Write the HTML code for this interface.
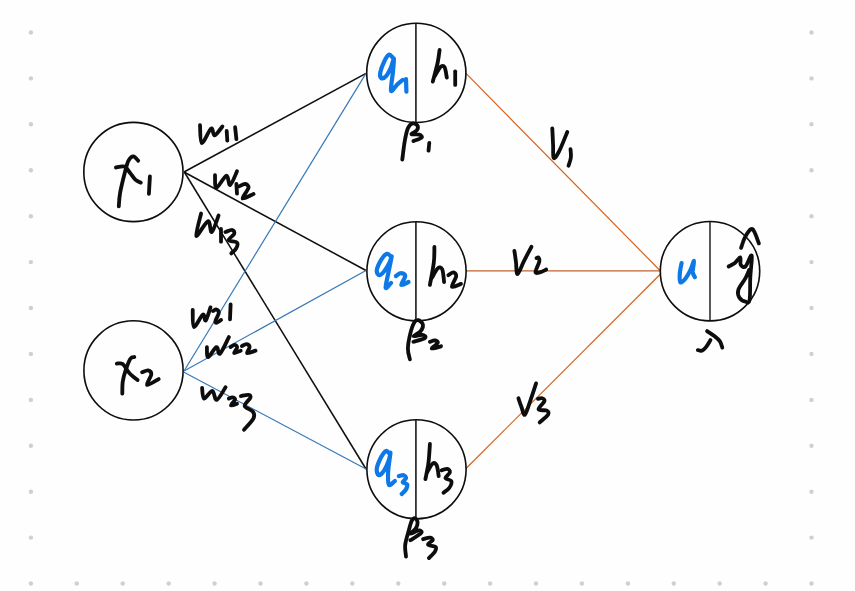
<!DOCTYPE html>
<html><head><meta charset="utf-8"><title>Neural network</title>
<style>html,body{margin:0;padding:0;background:#fefefe;font-family:"Liberation Sans",sans-serif;}svg{display:block}</style></head><body>
<svg width="855" height="591" viewBox="0 0 855 591">
<defs><filter id="b" x="-2%" y="-2%" width="104%" height="104%"><feGaussianBlur stdDeviation="0.4"/></filter></defs>
<rect width="855" height="591" fill="#fefefe"/>
<g filter="url(#b)">
<g fill="#d0d0d4">
<circle cx="30.9" cy="32.5" r="2.2"/>
<circle cx="30.9" cy="78.4" r="2.2"/>
<circle cx="30.9" cy="124.3" r="2.2"/>
<circle cx="30.9" cy="170.3" r="2.2"/>
<circle cx="30.9" cy="216.2" r="2.2"/>
<circle cx="30.9" cy="262.1" r="2.2"/>
<circle cx="30.9" cy="308.0" r="2.2"/>
<circle cx="30.9" cy="353.9" r="2.2"/>
<circle cx="30.9" cy="399.9" r="2.2"/>
<circle cx="30.9" cy="445.8" r="2.2"/>
<circle cx="30.9" cy="491.7" r="2.2"/>
<circle cx="30.9" cy="537.6" r="2.2"/>
<circle cx="30.9" cy="583.5" r="2.2"/>
<circle cx="76.8" cy="583.5" r="2.2"/>
<circle cx="122.7" cy="583.5" r="2.2"/>
<circle cx="168.7" cy="583.5" r="2.2"/>
<circle cx="214.6" cy="583.5" r="2.2"/>
<circle cx="260.5" cy="583.5" r="2.2"/>
<circle cx="306.4" cy="583.5" r="2.2"/>
<circle cx="352.3" cy="583.5" r="2.2"/>
<circle cx="398.3" cy="583.5" r="2.2"/>
<circle cx="444.2" cy="583.5" r="2.2"/>
<circle cx="490.1" cy="583.5" r="2.2"/>
<circle cx="536.0" cy="583.5" r="2.2"/>
<circle cx="581.9" cy="583.5" r="2.2"/>
<circle cx="627.9" cy="583.5" r="2.2"/>
<circle cx="673.8" cy="583.5" r="2.2"/>
<circle cx="719.7" cy="583.5" r="2.2"/>
<circle cx="765.6" cy="583.5" r="2.2"/>
<circle cx="811.5" cy="32.5" r="2.2"/>
<circle cx="811.5" cy="78.4" r="2.2"/>
<circle cx="811.5" cy="124.3" r="2.2"/>
<circle cx="811.5" cy="170.3" r="2.2"/>
<circle cx="811.5" cy="216.2" r="2.2"/>
<circle cx="811.5" cy="262.1" r="2.2"/>
<circle cx="811.5" cy="308.0" r="2.2"/>
<circle cx="811.5" cy="353.9" r="2.2"/>
<circle cx="811.5" cy="399.9" r="2.2"/>
<circle cx="811.5" cy="445.8" r="2.2"/>
<circle cx="811.5" cy="491.7" r="2.2"/>
<circle cx="811.5" cy="537.6" r="2.2"/>
<circle cx="811.5" cy="583.5" r="2.2"/>
<circle cx="857.5" cy="32.5" r="2.2"/>
<circle cx="857.5" cy="78.4" r="2.2"/>
<circle cx="857.5" cy="124.3" r="2.2"/>
<circle cx="857.5" cy="170.3" r="2.2"/>
<circle cx="857.5" cy="216.2" r="2.2"/>
<circle cx="857.5" cy="262.1" r="2.2"/>
<circle cx="857.5" cy="308.0" r="2.2"/>
<circle cx="857.5" cy="353.9" r="2.2"/>
<circle cx="857.5" cy="399.9" r="2.2"/>
<circle cx="857.5" cy="445.8" r="2.2"/>
<circle cx="857.5" cy="491.7" r="2.2"/>
<circle cx="857.5" cy="537.6" r="2.2"/>
<circle cx="857.5" cy="583.5" r="2.2"/>
</g>
<line x1="184" y1="172" x2="366" y2="73.4" stroke="#0a0a0a" stroke-width="1.5"/>
<line x1="184" y1="172" x2="366" y2="270.5" stroke="#0a0a0a" stroke-width="1.5"/>
<line x1="184.3" y1="172" x2="366" y2="469" stroke="#0a0a0a" stroke-width="1.5"/>
<line x1="184" y1="371" x2="366" y2="73.4" stroke="#3878b8" stroke-width="1.2"/>
<line x1="184" y1="371" x2="366" y2="270.5" stroke="#3878b8" stroke-width="1.2"/>
<line x1="184" y1="372.3" x2="366" y2="469" stroke="#3878b8" stroke-width="1.2"/>
<line x1="466" y1="73.4" x2="660" y2="270.5" stroke="#d9621a" stroke-width="1.2"/>
<line x1="466" y1="270.8" x2="660" y2="270.8" stroke="#c2632e" stroke-width="1.2"/>
<line x1="466" y1="468.5" x2="660" y2="274.5" stroke="#d9621a" stroke-width="1.2"/>
<circle cx="133.4" cy="172" r="49.6" fill="none" stroke="#0a0a0a" stroke-width="1.6"/>
<circle cx="133.5" cy="370.4" r="49.6" fill="none" stroke="#0a0a0a" stroke-width="1.6"/>
<circle cx="416.3" cy="72.9" r="49.6" fill="none" stroke="#0a0a0a" stroke-width="1.6"/>
<circle cx="416.5" cy="271.3" r="49.6" fill="none" stroke="#0a0a0a" stroke-width="1.6"/>
<circle cx="416.5" cy="469.3" r="49.6" fill="none" stroke="#0a0a0a" stroke-width="1.6"/>
<circle cx="710" cy="271.2" r="49.7" fill="none" stroke="#0a0a0a" stroke-width="1.6"/>
<line x1="415.9" y1="23.300000000000004" x2="415.9" y2="122.5" stroke="#0a0a0a" stroke-width="1.5"/>
<line x1="415.9" y1="221.70000000000002" x2="415.9" y2="320.90000000000003" stroke="#0a0a0a" stroke-width="1.5"/>
<line x1="415.9" y1="419.7" x2="415.9" y2="518.9" stroke="#0a0a0a" stroke-width="1.5"/>
<line x1="710" y1="221.5" x2="710" y2="320.9" stroke="#0a0a0a" stroke-width="1.3"/>
<g fill="none" stroke-linecap="round" stroke-linejoin="round">
<path d="M138.2,160.7C137.4,160.0 135.0,156.4 133.4,156.4C131.8,156.4 130.0,157.9 128.5,160.7C127.0,163.5 126.0,168.1 124.6,173.4C123.2,178.8 121.1,187.3 120.1,192.8C119.1,198.3 119.0,204.1 118.8,206.4" stroke="#0a0a0a" stroke-width="3.8"/>
<path d="M115.9,167.5C117.4,167.3 122.2,165.6 124.6,166.6C127.0,167.6 128.6,171.2 130.4,173.4C132.2,175.6 133.6,178.1 135.3,179.6C137.0,181.1 139.9,182.2 140.8,182.7" stroke="#0a0a0a" stroke-width="3.8"/>
<path d="M149.9,176.3L148.9,193.8" stroke="#0a0a0a" stroke-width="3.8"/>
<path d="M134.3,357.1C133.7,357.4 131.9,356.5 130.4,358.7C128.9,360.9 126.9,366.5 125.6,370.4C124.3,374.3 123.2,378.1 122.7,382.0C122.2,385.9 122.4,391.8 122.3,393.7" stroke="#0a0a0a" stroke-width="3.8"/>
<path d="M116.8,363.6C117.8,363.7 120.6,362.5 122.7,364.1C124.8,365.7 127.0,370.6 129.5,373.3C132.0,376.0 136.2,379.0 137.6,380.1" stroke="#0a0a0a" stroke-width="3.8"/>
<path d="M142.1,372.3C143.1,372.0 146.5,370.1 148.0,370.4C149.5,370.7 151.5,371.9 151.3,374.3C151.1,376.7 145.8,384.2 147.0,385.0C148.2,385.8 156.8,380.1 158.7,379.1" stroke="#0a0a0a" stroke-width="3.8"/>
<path d="M392.9,57.7C392.2,57.2 390.4,54.1 389.0,54.7C387.6,55.4 385.6,58.7 384.2,61.6C382.8,64.5 380.8,69.5 380.3,72.3C379.8,75.0 380.3,77.5 381.3,78.1C382.3,78.7 384.5,77.9 386.1,76.1C387.7,74.3 389.7,70.3 391.0,67.4C392.3,64.5 393.6,57.8 393.9,58.6C394.2,59.4 393.4,67.0 392.9,72.3C392.4,77.6 390.4,88.6 391.0,90.7C391.6,92.8 394.9,86.7 396.8,84.9C398.8,83.1 401.7,80.8 402.7,80.0" stroke="#0b78e6" stroke-width="4.2"/>
<path d="M406.0,79.1L406.4,91.7" stroke="#0b78e6" stroke-width="4.2"/>
<path d="M439.6,49.9C439.3,52.0 438.8,57.2 437.7,62.5C436.6,67.8 433.6,78.4 432.8,81.6" stroke="#0a0a0a" stroke-width="3.8"/>
<path d="M434.8,76.1C435.7,74.6 438.8,68.5 440.4,67.0C442.0,65.5 443.5,65.4 444.6,67.2C445.7,69.0 446.4,75.9 446.8,77.6" stroke="#0a0a0a" stroke-width="3.8"/>
<path d="M455.2,71.3L455.2,84.9" stroke="#0a0a0a" stroke-width="3.8"/>
<path d="M402.3,159.5C402.7,156.6 403.7,147.2 404.6,142.0C405.5,136.8 406.6,131.4 407.9,128.3C409.2,125.2 410.8,124.0 412.4,123.5C414.0,123.0 416.6,124.3 417.3,125.4C418.1,126.5 417.9,128.8 416.9,130.3C415.9,131.8 411.0,133.5 411.4,134.2C411.8,134.9 417.5,134.0 419.2,134.6C420.9,135.2 422.5,136.6 421.5,137.7C420.5,138.8 414.8,140.4 413.4,141.0" stroke="#0a0a0a" stroke-width="3.8"/>
<path d="M429.3,142.9L428.5,150.7" stroke="#0a0a0a" stroke-width="3.8"/>
<path d="M391.0,256.7C390.4,256.2 388.7,253.3 387.1,253.8C385.5,254.3 383.0,256.9 381.3,259.6C379.6,262.4 377.1,267.7 376.8,270.3C376.5,272.9 378.1,275.0 379.3,275.2C380.5,275.4 382.5,273.4 384.2,271.3C385.9,269.2 388.4,264.9 389.6,262.5C390.8,260.1 391.9,254.8 391.6,256.7C391.4,258.6 389.1,269.0 388.1,274.2C387.1,279.4 385.2,286.3 385.7,287.8C386.2,289.3 390.1,283.8 391.0,283.0" stroke="#0b78e6" stroke-width="4.2"/>
<path d="M395.9,276.1C396.7,275.6 399.1,273.2 400.7,273.2C402.2,273.1 405.1,273.9 405.2,275.8C405.3,277.8 400.8,283.9 401.3,284.9C401.9,285.9 407.3,282.5 408.5,282.0" stroke="#0b78e6" stroke-width="4.2"/>
<path d="M434.4,247.0C434.3,249.6 434.6,256.2 433.8,262.5C433.1,268.8 430.5,281.2 429.9,284.9" stroke="#0a0a0a" stroke-width="3.8"/>
<path d="M431.8,278.1C432.8,276.5 436.0,269.9 437.7,268.4C439.4,266.9 441.1,267.0 442.2,269.3C443.3,271.6 443.8,279.9 444.1,282.0" stroke="#0a0a0a" stroke-width="3.8"/>
<path d="M448.4,275.2C449.2,274.7 451.9,272.1 453.2,272.3C454.5,272.5 456.4,273.7 456.2,276.1C456.0,278.5 451.1,285.5 451.9,286.8C452.7,288.1 459.5,284.4 461.0,283.9" stroke="#0a0a0a" stroke-width="3.8"/>
<path d="M409.9,359.3C409.6,357.5 407.8,353.0 407.9,348.6C408.0,344.2 409.3,337.5 410.4,333.1C411.5,328.7 413.0,324.5 414.3,322.4C415.6,320.2 417.0,319.8 418.4,320.2C419.8,320.6 422.5,322.8 422.9,324.6C423.3,326.5 422.2,329.4 420.6,331.3C419.1,333.2 413.3,335.6 413.6,336.2C413.9,336.8 420.7,334.5 422.6,334.8C424.5,335.1 426.5,336.8 425.0,338.0C423.5,339.2 415.3,341.2 413.4,341.8" stroke="#0a0a0a" stroke-width="3.8"/>
<path d="M429.9,341.8C430.7,341.6 433.5,340.3 434.8,340.5C436.1,340.7 438.2,341.4 437.7,342.8C437.2,344.2 431.2,348.0 431.8,348.6C432.4,349.2 439.5,346.7 441.0,346.3" stroke="#0a0a0a" stroke-width="3.8"/>
<path d="M389.6,453.8C389.0,453.3 387.5,450.4 386.1,450.9C384.7,451.4 382.9,453.8 381.3,456.7C379.8,459.6 377.2,465.3 376.8,468.4C376.4,471.5 377.5,474.9 378.7,475.2C379.9,475.5 382.5,472.9 384.2,470.3C385.9,467.7 388.0,462.5 389.0,459.6C390.0,456.8 390.5,451.1 390.4,453.2C390.2,455.3 388.3,467.0 388.1,472.3C387.9,477.6 387.9,483.4 389.0,484.9C390.1,486.3 393.9,481.6 394.9,481.0" stroke="#0b78e6" stroke-width="4.2"/>
<path d="M398.8,476.1C399.6,476.0 402.4,474.9 403.6,475.2C404.8,475.5 406.1,476.9 406.0,478.1C405.9,479.3 402.5,481.4 402.7,482.4C402.9,483.4 406.6,483.1 407.1,484.3C407.7,485.5 406.9,487.8 406.0,489.4C405.1,491.0 402.4,493.2 401.7,494.0" stroke="#0b78e6" stroke-width="4.2"/>
<path d="M429.9,444.0C429.7,447.1 429.2,456.6 428.5,462.5C427.8,468.4 425.9,476.3 425.4,479.1" stroke="#0a0a0a" stroke-width="3.8"/>
<path d="M427.0,472.3C428.0,470.8 431.2,464.6 432.8,463.5C434.4,462.4 435.7,463.3 436.7,465.4C437.7,467.5 438.4,474.3 438.7,476.1" stroke="#0a0a0a" stroke-width="3.8"/>
<path d="M441.6,470.3C442.6,470.1 446.0,468.5 447.4,468.8C448.8,469.1 450.2,470.8 449.9,472.3C449.6,473.9 445.3,476.7 445.5,478.1C445.7,479.6 450.7,479.4 451.3,481.0C451.9,482.6 450.7,485.9 449.4,487.8C448.1,489.8 444.5,491.9 443.5,492.7" stroke="#0a0a0a" stroke-width="3.8"/>
<path d="M406.0,556.7C405.9,554.8 404.8,549.2 405.2,545.0C405.6,540.8 407.4,535.4 408.5,531.4C409.6,527.4 410.7,522.9 411.8,520.7C412.9,518.5 414.3,517.9 415.3,518.2C416.3,518.5 417.5,521.0 417.6,522.7C417.7,524.4 416.9,526.6 415.7,528.5C414.5,530.4 409.9,533.5 410.4,533.8C410.9,534.1 417.0,530.5 418.8,530.4C420.6,530.3 422.5,531.4 421.1,533.0C419.7,534.6 412.2,539.0 410.4,540.2" stroke="#0a0a0a" stroke-width="3.8"/>
<path d="M423.1,539.2C424.2,538.9 428.3,537.5 429.9,537.6C431.5,537.7 433.1,538.8 432.8,540.0C432.5,541.2 427.5,543.4 428.0,544.6C428.5,545.8 434.6,545.8 435.7,547.0C436.8,548.2 435.9,549.9 434.8,551.8C433.7,553.6 429.9,557.0 428.9,558.1" stroke="#0a0a0a" stroke-width="3.8"/>
<path d="M681.6,263.0C681.3,264.8 680.0,270.4 679.8,273.6C679.6,276.8 679.4,281.3 680.3,282.2C681.2,283.1 683.4,281.0 685.1,279.0C686.8,277.0 688.9,273.1 690.4,270.1C691.9,267.1 693.6,260.6 694.0,260.9C694.4,261.2 692.6,269.2 692.7,271.9C692.9,274.6 694.5,276.3 694.9,277.2" stroke="#0b78e6" stroke-width="4.2"/>
<path d="M741.1,247.9C741.7,246.3 743.0,241.2 744.6,238.1C746.2,235.0 749.3,230.2 750.9,229.2C752.5,228.2 753.1,229.5 754.4,231.9C755.7,234.3 758.1,241.5 758.9,243.4" stroke="#0a0a0a" stroke-width="3.8"/>
<path d="M728.6,266.5C729.6,265.9 733.0,264.5 734.9,263.0C736.8,261.5 739.2,257.0 740.2,257.3C741.2,257.6 739.8,263.3 740.7,264.8C741.6,266.3 743.7,268.1 745.5,266.5C747.3,264.9 750.9,253.7 751.7,255.5C752.5,257.3 750.6,269.8 750.3,277.2C749.9,284.6 750.4,295.9 749.6,300.0C748.8,304.1 747.2,302.1 745.5,301.7C743.8,301.3 740.5,299.6 739.3,297.6C738.1,295.6 737.4,292.9 738.4,289.6C739.4,286.4 743.7,281.4 745.5,278.1C747.3,274.9 748.5,271.4 749.1,270.1" stroke="#0a0a0a" stroke-width="3.8"/>
<path d="M707.1,331.1C708.2,331.9 711.8,334.0 713.9,335.7C716.0,337.4 718.4,339.2 719.8,341.2C721.2,343.2 721.9,346.5 722.3,347.6" stroke="#0a0a0a" stroke-width="3.8"/>
<path d="M710.5,340.0C709.8,341.1 707.6,345.0 706.2,346.8C704.8,348.6 703.4,350.1 702.0,350.6C700.6,351.2 698.5,350.2 697.8,350.1" stroke="#0a0a0a" stroke-width="3.8"/>
<path d="M200.0,125.2C200.3,128.2 200.0,142.5 201.8,143.1C203.7,143.7 209.0,129.8 211.1,128.5C213.2,127.2 212.7,135.6 214.6,135.3C216.5,135.0 221.1,128.0 222.4,126.5" stroke="#0a0a0a" stroke-width="3.8"/>
<path d="M226.7,131.0L227.3,140.7" stroke="#0a0a0a" stroke-width="3.8"/>
<path d="M235.1,127.1L236.4,139.2" stroke="#0a0a0a" stroke-width="3.8"/>
<path d="M215.0,175.2C215.2,177.3 214.5,187.7 216.4,187.8C218.3,187.9 224.0,176.3 226.3,175.8C228.6,175.3 228.4,185.7 230.2,184.9C232.0,184.2 235.9,173.6 237.0,171.3" stroke="#0a0a0a" stroke-width="3.8"/>
<path d="M236.4,183.9L237.0,193.7" stroke="#0a0a0a" stroke-width="3.8"/>
<path d="M239.3,186.3C240.3,185.9 243.7,183.7 245.2,183.9C246.7,184.2 248.9,185.4 248.5,187.8C248.1,190.2 241.8,197.5 242.6,198.5C243.4,199.5 251.7,194.8 253.5,194.0" stroke="#0a0a0a" stroke-width="3.8"/>
<path d="M201.1,213.5C200.3,217.2 195.2,234.6 196.3,235.9C197.4,237.2 205.3,222.0 207.9,221.3C210.5,220.7 210.0,233.0 211.8,232.0C213.6,231.0 217.5,218.2 218.6,215.4" stroke="#0a0a0a" stroke-width="3.8"/>
<path d="M221.0,229.0L221.0,241.7" stroke="#0a0a0a" stroke-width="3.8"/>
<path d="M225.4,232.0C226.6,231.7 230.8,229.7 232.3,230.0C233.8,230.3 234.8,232.2 234.2,233.9C233.6,235.6 228.3,238.6 228.8,240.1C229.3,241.6 235.9,241.3 237.1,242.7C238.3,244.1 237.1,246.7 236.1,248.5C235.1,250.3 232.1,252.6 231.3,253.4" stroke="#0a0a0a" stroke-width="3.8"/>
<path d="M192.7,309.8C192.9,312.7 192.2,326.2 193.9,327.0C195.6,327.8 200.8,315.7 202.8,314.6C204.8,313.5 204.4,321.7 205.7,320.5C207.0,319.3 209.7,309.6 210.5,307.4" stroke="#0a0a0a" stroke-width="3.8"/>
<path d="M212.9,311.0C213.5,310.8 215.4,309.2 216.4,309.5C217.4,309.8 218.9,311.0 218.8,312.8C218.7,314.6 216.0,318.8 215.6,320.5C215.2,322.2 215.5,323.0 216.4,322.9C217.3,322.8 220.3,320.4 221.1,319.9" stroke="#0a0a0a" stroke-width="3.8"/>
<path d="M230.6,304.5L230.0,319.3" stroke="#0a0a0a" stroke-width="3.8"/>
<path d="M206.9,347.1C207.1,348.8 206.5,357.2 208.1,357.2C209.7,357.2 214.4,347.7 216.4,347.1C218.4,346.5 217.9,355.4 220.0,353.7C222.1,352.0 227.4,339.9 228.9,337.1" stroke="#0a0a0a" stroke-width="3.8"/>
<path d="M230.6,347.1C231.3,346.7 233.7,344.7 234.8,344.8C235.9,344.9 237.2,346.3 237.1,347.7C237.0,349.1 233.6,352.6 234.2,353.1C234.8,353.6 239.6,351.1 240.7,350.7" stroke="#0a0a0a" stroke-width="3.8"/>
<path d="M241.9,346.0C242.7,345.7 245.3,344.0 246.6,344.2C247.9,344.4 249.5,345.6 249.6,347.1C249.7,348.6 246.2,352.5 247.2,353.1C248.2,353.7 254.1,351.1 255.5,350.7" stroke="#0a0a0a" stroke-width="3.8"/>
<path d="M202.1,387.8C202.4,389.6 202.3,398.1 204.0,398.6C205.7,399.1 210.2,390.8 212.3,391.0C214.4,391.2 214.5,400.5 216.7,399.9C218.9,399.3 224.1,389.3 225.6,387.2" stroke="#0a0a0a" stroke-width="3.8"/>
<path d="M228.8,398.6C229.4,398.4 231.6,397.2 232.6,397.4C233.6,397.5 235.4,398.2 235.1,399.5C234.8,400.8 230.7,404.7 231.0,405.4C231.3,406.1 236.0,404.0 237.0,403.7" stroke="#0a0a0a" stroke-width="3.8"/>
<path d="M240.9,396.1C242.2,395.9 246.9,394.5 248.5,394.8C250.1,395.1 251.0,395.9 250.4,397.7C249.8,399.5 244.3,403.6 244.7,405.9C245.1,408.2 251.4,409.6 252.9,411.7C254.4,413.8 255.0,415.3 253.5,418.3C252.0,421.3 245.6,427.8 244.0,429.7" stroke="#0a0a0a" stroke-width="3.8"/>
<path d="M552.3,128.4C552.4,131.2 552.9,140.6 553.1,145.5C553.3,150.4 552.7,157.0 553.7,158.0C554.7,159.0 556.7,155.8 559.0,151.5C561.3,147.2 565.9,135.2 567.3,131.9" stroke="#0a0a0a" stroke-width="3.8"/>
<path d="M570.5,149.1C570.6,150.5 571.2,154.6 570.9,157.4C570.6,160.2 568.9,164.3 568.5,165.7" stroke="#0a0a0a" stroke-width="3.8"/>
<path d="M514.4,251.0C514.7,252.9 515.5,258.3 516.0,262.2C516.5,266.1 516.2,274.2 517.5,274.1C518.8,274.0 521.4,266.2 523.7,261.6C526.0,257.1 530.1,249.3 531.4,246.8" stroke="#0a0a0a" stroke-width="3.8"/>
<path d="M536.5,258.1C536.8,258.0 538.0,256.9 538.5,257.5C539.0,258.1 539.8,259.2 539.3,261.6C538.8,264.0 535.4,270.2 535.5,272.0C535.6,273.8 537.9,272.8 539.7,272.4C541.5,272.0 545.1,270.1 546.2,269.6" stroke="#0a0a0a" stroke-width="3.8"/>
<path d="M518.4,398.2C518.9,399.6 520.2,403.8 521.3,406.5C522.4,409.2 523.3,415.9 524.9,414.7C526.5,413.5 528.9,404.5 530.8,399.3C532.7,394.1 535.2,386.0 536.1,383.4" stroke="#0a0a0a" stroke-width="3.8"/>
<path d="M537.9,398.8C538.6,398.7 540.9,397.8 542.0,398.2C543.1,398.6 545.0,399.2 544.4,401.1C543.8,403.0 538.1,407.8 538.5,409.4C538.9,411.0 545.2,409.7 546.8,410.6C548.4,411.5 549.2,412.7 548.0,414.7C546.8,416.7 541.1,421.1 539.7,422.4" stroke="#0a0a0a" stroke-width="3.8"/>
</g>
</g>
</svg></body></html>
